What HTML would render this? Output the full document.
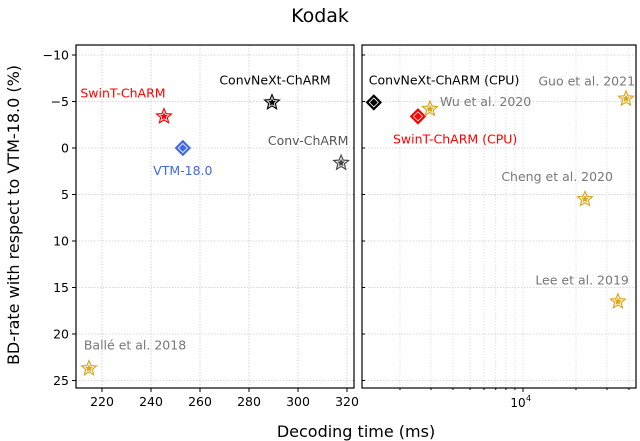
<!DOCTYPE html>
<html><head><meta charset="utf-8"><style>
html,body{margin:0;padding:0;background:#fff;}
svg{display:block;font-family:"DejaVu Sans","Liberation Sans",sans-serif;}
</style></head><body>
<svg id="chart" width="640" height="441" viewBox="0 0 640 441">
<text x="320" y="22" text-anchor="middle" font-size="19">Kodak</text>
<text x="356" y="437" text-anchor="middle" font-size="16">Decoding time (ms)</text>
<text transform="translate(19,215) rotate(-90)" text-anchor="middle" font-size="16">BD-rate with respect to VTM-18.0 (%)</text>
<g id="g"></g>
</svg>
<script>
const leftNames=["SwinT-ChARM","VTM-18.0","ConvNeXt-ChARM","Conv-ChARM","Ballé et al. 2018"];
const leftTimes=[245.3,253,289.4,317.6,214.7];
const leftBD=[-3.4,0,-4.9,1.6,23.7];
const leftColors=["#ff0000","#4169e1","#000000","#444444","#DAA520"];
const leftShapes=["star","diamond","star","star","star"];
const rightNames=["ConvNeXt-ChARM (CPU)","SwinT-ChARM (CPU)","Wu et al. 2020","Guo et al. 2021","Cheng et al. 2020","Lee et al. 2019"];
const rightTimes=[1420,2530,2960,38500,22500,34600];
const rightBD=[-4.9,-3.4,-4.2,-5.3,5.5,16.5];
const rightColors=["#000000","#ff0000","#DAA520","#DAA520","#DAA520","#DAA520"];
const rightShapes=["diamond","diamond","star","star","star","star"];
const yTicks=[-10,-5,0,5,10,15,20,25];
const xTicksLeft=[220,240,260,280,300,320];

const NS="http://www.w3.org/2000/svg";
const g=document.getElementById('g');
function el(t,a){const e=document.createElementNS(NS,t);for(const k in a)e.setAttribute(k,a[k]);g.appendChild(e);return e;}
const T=45,B=388;
const y=v=>148+(v)*9.3;
const L1=76,R1=354;
const xL=v=>102+(v-220)*2.45;
const L2=362,R2=636;
const xR=v=>523+(Math.log10(v)-4)*176;

yTicks.forEach(v=>{
  let a=el('line',{x1:L1,x2:R1,y1:y(v),y2:y(v),stroke:'#ccc','stroke-dasharray':'1.5,1.5','stroke-width':0.8});
  
  let b=el('line',{x1:L2,x2:R2,y1:y(v),y2:y(v),stroke:'#ccc','stroke-dasharray':'1.5,1.5','stroke-width':0.8});
  
  let t=el('line',{x1:L1-4,x2:L1,y1:y(v),y2:y(v),stroke:'#000'});
  
  let t2=el('line',{x1:L2,x2:L2+3,y1:y(v),y2:y(v),stroke:'#000'});
  
  let lb=el('text',{x:L1-7,y:y(v)+4.5,'text-anchor':'end','font-size':12.5});
  lb.textContent=(v<0?'\u2212'+(-v):v);
  
});
xTicksLeft.forEach(v=>{
  let a=el('line',{x1:xL(v),x2:xL(v),y1:T,y2:B,stroke:'#ccc','stroke-dasharray':'1.5,1.5','stroke-width':0.8});
  
  let t=el('line',{x1:xL(v),x2:xL(v),y1:B,y2:B+4,stroke:'#000'});
  
  let lb=el('text',{x:xL(v),y:B+18,'text-anchor':'middle','font-size':12.5});
  lb.textContent=v;
  
});
const logTicks=[2000,3000,4000,5000,6000,7000,8000,9000,10000,20000,30000,40000];
logTicks.forEach(v=>{
  const major=v===10000;
  let a=el('line',{x1:xR(v),x2:xR(v),y1:T,y2:B,stroke:'#ddd','stroke-dasharray':'1.5,1.5','stroke-width':0.8});
  
  let t=el('line',{x1:xR(v),x2:xR(v),y1:B,y2:B+(major?4:2),stroke:'#000'});
  
});
let lb=el('text',{x:xR(10000)-5,y:B+19,'text-anchor':'middle','font-size':12});lb.textContent='10';

let sp=el('text',{x:xR(10000)+3,y:B+13,'font-size':8});sp.textContent='4';


let f1=el('rect',{x:L1,y:T,width:R1-L1,height:B-T,fill:'none',stroke:'#000','stroke-width':1.2});

let f2=el('rect',{x:L2,y:T,width:R2-L2,height:B-T,fill:'none',stroke:'#000','stroke-width':1.2});


function starPts(cx,cy,r){let p=[];for(let i=0;i<10;i++){const rr=i%2?r*0.45:r;const a=-Math.PI/2+i*Math.PI/5;p.push((cx+rr*Math.cos(a)).toFixed(1)+','+(cy+rr*Math.sin(a)).toFixed(1));}return p.join(' ');}
function mark(shape,cx,cy,col,name){
  if(shape==='star'){
    let s=el('polygon',{points:starPts(cx,cy,8),fill:col,stroke:col,'stroke-width':1});
    
    let i=el('polygon',{points:starPts(cx,cy,5.2),fill:'none',stroke:'#fff','stroke-width':0.8});
    
  } else {
    const r=7.5;
    let s=el('polygon',{points:`${cx},${cy-r} ${cx+r},${cy} ${cx},${cy+r} ${cx-r},${cy}`,fill:col,stroke:col});
    
    let i=el('polygon',{points:`${cx},${cy-4.5} ${cx+4.5},${cy} ${cx},${cy+4.5} ${cx-4.5},${cy}`,fill:'none',stroke:'#fff','stroke-width':0.8});
    
  }
}
function label(txt,x0,y0,col,anchor,name){
  let t=el('text',{x:x0,y:y0,fill:col,'font-size':12.5,'text-anchor':anchor});t.textContent=txt;
  
}
const leftLab=[[-41,-19,'middle','#ff0000'],[0,27,'middle','#4169e1'],[3,-18,'middle','#000'],[-33,-18,'middle','#555'],[46,-19,'middle','#777']];
leftNames.forEach((n,i)=>{
  const cx=xL(leftTimes[i]),cy=y(leftBD[i]);
  mark(leftShapes[i],cx,cy,leftColors[i],'point-'+i);
  const o=leftLab[i];label(n,cx+o[0],cy+o[1],o[3],o[2],'label-'+i);
});
const rightLab=[[-5,-18,'start','#000'],[-25,27,'start','#ff0000'],[10,-3,'start','#777'],[9,-13,'end','#777'],[28,-18,'end','#777'],[11,-17,'end','#777']];
rightNames.forEach((n,i)=>{
  const cx=xR(rightTimes[i]),cy=y(rightBD[i]);
  mark(rightShapes[i],cx,cy,rightColors[i],'point-right-'+i);
  const o=rightLab[i];label(n,cx+o[0],cy+o[1],o[3],o[2],'label-right-'+i);
});
</script>
</body></html>
